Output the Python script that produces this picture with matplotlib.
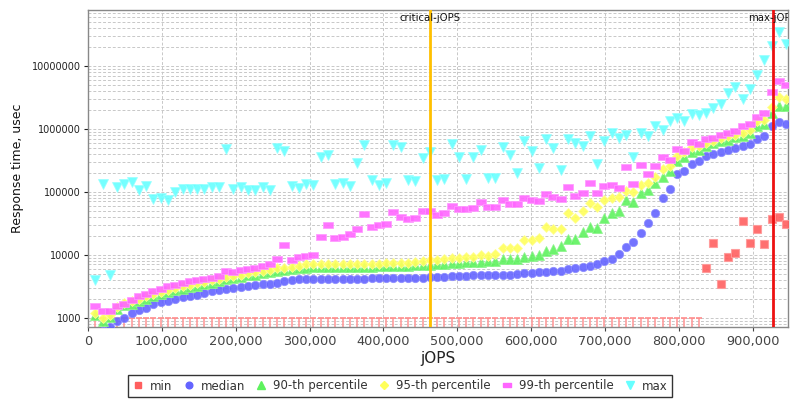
import numpy as np
import matplotlib
matplotlib.use("Agg")
import matplotlib.pyplot as plt
from matplotlib.lines import Line2D
import matplotlib.ticker as mticker
import matplotlib.transforms as mtransforms

# ---- data -------------------------------------------------------------
hbir = 985000                      # 100% load level, jOPS
load_pct = np.arange(1, 97)        # RT-curve load steps, 1% .. 96%
jops = load_pct * hbir / 100.0

critical_jops = 462700
max_jops = 927500

# min: levels 1..84 sit on the 1000 usec floor, then real values
min_rt = [1000] * 84 + [6170, 15450, 3360, 9030, 10600, 34300, 15300,
                        25500, 14550, 36500, 39700, 30300]

median_rt = [560, 620, 708, 896, 1000, 1200, 1306, 1422, 1630, 1774,
             1820, 2010, 2130, 2210, 2330, 2500, 2620, 2720, 2820, 2960,
             3040, 3150, 3270, 3360, 3480, 3560, 3790, 3890, 4070, 4070,
             4100, 4100, 4120, 4120, 4150, 4150, 4170, 4170, 4200, 4200,
             4250, 4250, 4300, 4300, 4300, 4320, 4390, 4440, 4500, 4550,
             4610, 4610, 4670, 4670, 4730, 4780, 4840, 4840, 4900, 5030,
             5090, 5220, 5280, 5480, 5600, 5820, 6040, 6260, 6570, 7060,
             7980, 8600, 10200, 13350, 16040, 21800, 32100, 45300, 80600, 109000,
             190000, 215000, 280000, 305000, 370000, 400000, 420000, 456000, 487000, 530000,
             570000, 700000, 770000, 1090000, 1300000, 1210000]

p90_rt = [1116, 883, 1011, 1356, 1570, 1630, 1820, 2010, 2210, 2350,
          2560, 2720, 2900, 3070, 3230, 3360, 3610, 3790, 4070, 4270,
          4440, 4730, 4840, 5030, 5330, 5530, 5670, 5880, 6100, 6250,
          6300, 6350, 6300, 6400, 6350, 6400, 6450, 6400, 6450, 6500,
          6500, 6550, 6640, 6640, 6820, 6820, 6890, 7060, 7240, 7420,
          7500, 7600, 7690, 7690, 7880, 7980, 8480, 8580, 8580, 9030,
          9500, 9840, 11400, 12400, 13700, 17500, 17900, 22600, 27800, 26800,
          38600, 45300, 49800, 74000, 68000, 97000, 108000, 136000, 174000, 217000,
          313000, 350000, 435000, 463000, 525000, 592000, 630000, 670000, 730000, 777000,
          860000, 1100000, 1200000, 1780000, 2270000, 2270000]

p95_rt = [1200, 990, 1090, 1460, 1730, 1820, 2010, 2210, 2410, 2560,
          2790, 2960, 3150, 3310, 3520, 3650, 3930, 4170, 4440, 4610,
          4840, 5080, 5270, 5460, 5740, 6040, 6170, 6410, 6730, 6990,
          7050, 7100, 7000, 7150, 7100, 7050, 7200, 7100, 7150, 7200,
          7250, 7300, 7500, 7500, 7700, 8000, 8200, 8380, 8580, 8900,
          8900, 9030, 9230, 9940, 9590, 10200, 12600, 12600, 12600, 16900,
          17050, 18100, 27800, 25800, 25800, 45300, 38600, 49300, 67000, 57800,
          75000, 78700, 81500, 104000, 98000, 130000, 138000, 170000, 228000, 257000,
          370000, 420000, 510000, 540000, 592000, 650000, 710000, 755000, 803000, 870000,
          960000, 1310000, 1390000, 2220000, 3210000, 2960000]

p99_rt = [1514, 1293, 1293, 1514, 1648, 1910, 2210, 2410, 2620, 2900,
          3150, 3270, 3520, 3790, 3930, 4120, 4340, 4610, 5600, 5330,
          5670, 5950, 6170, 6640, 6990, 8480, 14200, 8300, 9140, 9360,
          9840, 19200, 29900, 18600, 19000, 21300, 25200, 44000, 27300, 29300,
          30300, 47400, 40000, 36400, 37800, 49800, 49800, 43300, 45300, 59400,
          52600, 52600, 54600, 69600, 56700, 56700, 74000, 64500, 64500, 80600,
          75000, 72300, 92500, 82700, 77900, 120000, 86800, 93800, 139000, 95000,
          123000, 128000, 116000, 245000, 133000, 267000, 193000, 257000, 354000, 322000,
          480000, 446000, 606000, 577000, 690000, 710000, 803000, 860000, 910000, 1100000,
          1200000, 1520000, 1800000, 3850000, 5700000, 4900000]

max_rt = [3930, 133000, 4840, 120000, 133000, 145000, 107000, 125000, 78000, 78700,
          74000, 98000, 110500, 110500, 109000, 109000, 117500, 117500, 480000, 110500,
          117500, 107000, 107000, 120000, 107000, 495000, 446000, 122000, 113000, 131000,
          127000, 350000, 385000, 133000, 140000, 125000, 283000, 545000, 154000, 129000,
          140000, 545000, 505000, 154000, 150000, 343000, 420000, 154000, 162000, 577000,
          362000, 158000, 362000, 463000, 168000, 168000, 505000, 385000, 197000, 646000,
          450000, 236000, 690000, 495000, 220000, 690000, 592000, 525000, 755000, 277000,
          638000, 870000, 703000, 794000, 362000, 860000, 780000, 1100000, 960000, 1310000,
          1470000, 1310000, 1740000, 1630000, 1800000, 2150000, 2500000, 3680000, 4600000, 2960000,
          4330000, 7200000, 12400000, 20400000, 34200000, 22500000]

x_ticks = [0, 100000, 200000, 300000, 400000, 500000, 600000, 700000, 800000, 900000]
y_ticks = [1000, 10000, 100000, 1000000, 10000000]

# ---- styling ----------------------------------------------------------
c_min = "#ff5f5f"
c_med = "#6464ff"
c_p90 = "#5ef25e"
c_p95 = "#ffff5a"
c_p99 = "#ff66ff"
c_max = "#66ffff"
rect_marker = [(-1.0, -0.6), (1.0, -0.6), (1.0, 0.6), (-1.0, 0.6), (-1.0, -0.6)]

YMIN, YMAX = 710, 7.7e7
XMIN, XMAX = 0, 948000

fig = plt.figure(figsize=(8, 4), dpi=100)
ax = fig.add_axes([0.11, 0.1825, 0.875, 0.7925])
ax.set_yscale("log")
ax.set_xlim(XMIN, XMAX)
ax.set_ylim(YMIN, YMAX)

jops_arr = np.asarray(jops)
min_arr = np.asarray(min_rt, dtype=float)
floor = min_arr <= 1000
ax.vlines(jops_arr[floor], YMIN, min_arr[floor], colors="#ff9c9c", lw=1.2, zorder=2)
ax.plot(jops_arr[floor], min_arr[floor], ls="none", marker="_", ms=4.5,
        mew=1.2, color="#ff8c8c", zorder=2)
ax.plot(jops_arr[~floor], min_arr[~floor], ls="none", marker="s", ms=6.2,
        color=c_min, alpha=0.9, mec="#ff9a9a", mew=0.8, zorder=3)

kw = dict(ls="none", alpha=0.9, zorder=3)
ax.plot(jops, median_rt, marker="o", ms=6.0, color=c_med, mec="#8c8cff", mew=0.6, **kw)
ax.plot(jops, p90_rt, marker="^", ms=6.8, color=c_p90, mec="#8cf58c", mew=0.6, **kw)
ax.plot(jops, p95_rt, marker="D", ms=5.0, color=c_p95, mec="#ffff99", mew=0.6, **kw)
ax.plot(jops, p99_rt, marker=rect_marker, ms=6.8, color=c_p99, mec="#ff99ff", mew=0.6, **kw)
ax.plot(jops, max_rt, marker="v", ms=7.0, color=c_max, mec="#99ffff", mew=0.6, **kw)

ax.axvline(critical_jops, color="#ffc000", lw=2.0, zorder=4)
ax.axvline(max_jops, color="#ee1111", lw=2.0, zorder=4)
trans = mtransforms.blended_transform_factory(ax.transData, ax.transAxes)
ax.text(critical_jops, 0.976, "critical-jOPS", transform=trans, ha="center",
        va="center", fontsize=7.3, color="#111111", zorder=5)
ax.text(max_jops, 0.976, "max-jOPS", transform=trans, ha="center",
        va="center", fontsize=7.3, color="#111111", zorder=5, clip_on=True)

# grid
ax.grid(True, which="major", axis="both", ls=(0, (3, 2)), color="#c8c8c8", lw=0.7)
ax.grid(True, which="minor", axis="y", ls=(0, (3, 2)), color="#c8c8c8", lw=0.7)
ax.set_axisbelow(True)

ax.set_xticks(x_ticks)
ax.xaxis.set_major_formatter(mticker.FuncFormatter(lambda v, p: f"{int(v):,}"))
ax.set_yticks(y_ticks)
ax.yaxis.set_major_formatter(mticker.FuncFormatter(lambda v, p: f"{int(round(v))}"))
ax.yaxis.set_minor_locator(mticker.LogLocator(base=10, subs=np.arange(2, 10)))
ax.yaxis.set_minor_formatter(mticker.NullFormatter())
ax.tick_params(axis="x", labelsize=9.3, colors="#444444", length=3, pad=3)
ax.tick_params(axis="y", labelsize=7.0, colors="#222222", length=3, pad=2)
ax.tick_params(axis="y", which="minor", length=0)
for s in ax.spines.values():
    s.set_color("#888888")
    s.set_linewidth(1.0)

ax.set_xlabel("jOPS", fontsize=11, color="#222222", labelpad=2)
ax.set_ylabel("Response time, usec", fontsize=9, color="#111111", labelpad=6)

handles = [
    Line2D([], [], ls="none", marker="s", ms=5, color=c_min),
    Line2D([], [], ls="none", marker="o", ms=4.8, color=c_med),
    Line2D([], [], ls="none", marker="^", ms=5.2, color=c_p90),
    Line2D([], [], ls="none", marker="D", ms=4.0, color=c_p95),
    Line2D([], [], ls="none", marker=rect_marker, ms=5.2, color=c_p99),
    Line2D([], [], ls="none", marker="v", ms=5.2, color=c_max),
]
labels = ["min", "median", "90-th percentile", "95-th percentile",
          "99-th percentile", "max"]
leg = fig.legend(handles, labels, loc="center", bbox_to_anchor=(0.5, 0.035),
                 ncol=6, fontsize=8.5, frameon=True, fancybox=False,
                 handlelength=1.0, handletextpad=0.5, columnspacing=0.9,
                 borderpad=0.35, borderaxespad=0.0)
leg.get_frame().set_edgecolor("#000000")
leg.get_frame().set_linewidth(1.0)
for t in leg.get_texts():
    t.set_color("#333333")

fig.savefig("out.png", dpi=100)
